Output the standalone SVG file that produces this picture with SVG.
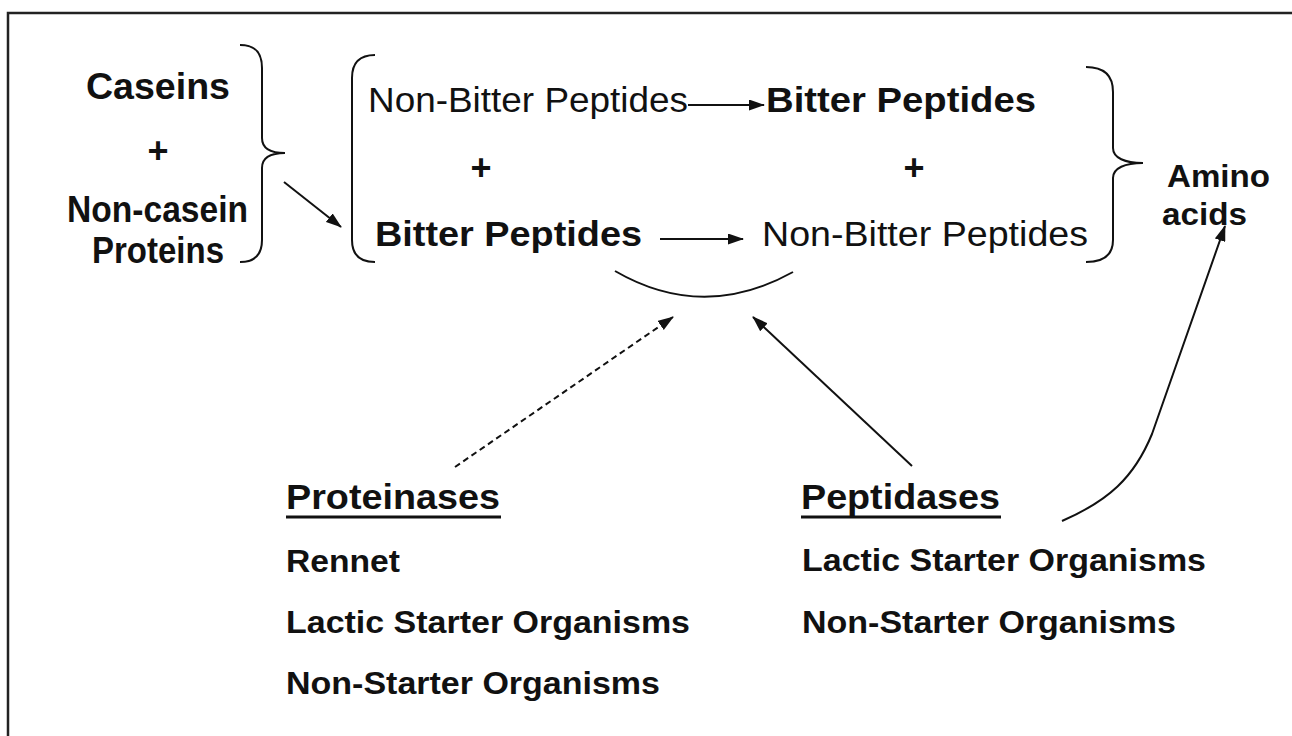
<svg xmlns="http://www.w3.org/2000/svg" width="1292" height="736" viewBox="0 0 1292 736">
<style>
  text { font-family: "Liberation Sans", Arial, sans-serif; fill: #111; }
  .b { font-weight: bold; }
  .big { font-size: 36px; }
  .mid { font-size: 35px; }
  .sm { font-size: 31px; }
  .ln { fill: none; stroke: #111; stroke-width: 2; }
  .frame { fill: none; stroke: #222; stroke-width: 2.5; }
  .ul { stroke: #111; stroke-width: 3; }
</style>
<defs>
  <marker id="ah" viewBox="0 0 16 11" refX="15" refY="5.5" markerWidth="16" markerHeight="11" markerUnits="userSpaceOnUse" orient="auto">
    <path d="M0,0 L16,5.5 L0,11 Z" fill="#111"/>
  </marker>
</defs>
<rect width="1292" height="736" fill="#fff"/>
<path class="frame" d="M8,740 L8,13 L1300,13"/>

<g id="inputs">
  <text class="b big" x="86" y="99" textLength="144" lengthAdjust="spacingAndGlyphs">Caseins</text>
  <text class="b big" x="158" y="163" text-anchor="middle">+</text>
  <text class="b big" x="67" y="222" textLength="181" lengthAdjust="spacingAndGlyphs">Non-casein</text>
  <text class="b big" x="92" y="263" textLength="132" lengthAdjust="spacingAndGlyphs">Proteins</text>
  <path class="ln" d="M240,45 C255,45 262,52 262,68 L262,138 C262,148 270,153 285,153 C270,153 262,158 262,168 L262,240 C262,255 255,262 240,262"/>
</g>

<g id="peptides">
  <path class="ln" d="M375,55 C360,55 352,62 352,78 L352,240 C352,255 360,262 375,262"/>
  <text class="mid" x="368" y="112" textLength="320" lengthAdjust="spacingAndGlyphs">Non-Bitter Peptides</text>
  <text class="b mid" x="766" y="112" textLength="270" lengthAdjust="spacingAndGlyphs">Bitter Peptides</text>
  <text class="b big" x="481" y="180" text-anchor="middle">+</text>
  <text class="b big" x="914" y="180" text-anchor="middle">+</text>
  <text class="b mid" x="375" y="246" textLength="267" lengthAdjust="spacingAndGlyphs">Bitter Peptides</text>
  <text class="mid" x="762" y="246" textLength="326" lengthAdjust="spacingAndGlyphs">Non-Bitter Peptides</text>
  <path class="ln" d="M1086,67 C1103,67 1113,75 1113,92 L1113,148 C1113,158 1125,163 1143,163 C1125,163 1113,168 1113,178 L1113,240 C1113,255 1103,262 1086,262"/>
  <path class="ln" d="M615,271 Q703,322 793,272"/>
</g>

<g id="amino">
  <text class="b sm" x="1167" y="187" textLength="103" lengthAdjust="spacingAndGlyphs">Amino</text>
  <text class="b sm" x="1162" y="225" textLength="85" lengthAdjust="spacingAndGlyphs">acids</text>
</g>

<g id="proteinases">
  <text class="b mid" x="286" y="509" textLength="214" lengthAdjust="spacingAndGlyphs">Proteinases</text>
  <line class="ul" x1="286" y1="517" x2="501" y2="517"/>
  <text class="b sm" x="286" y="572" textLength="114" lengthAdjust="spacingAndGlyphs">Rennet</text>
  <text class="b sm" x="286" y="633" textLength="404" lengthAdjust="spacingAndGlyphs">Lactic Starter Organisms</text>
  <text class="b sm" x="286" y="694" textLength="374" lengthAdjust="spacingAndGlyphs">Non-Starter Organisms</text>
</g>

<g id="peptidases">
  <text class="b mid" x="801" y="509" textLength="199" lengthAdjust="spacingAndGlyphs">Peptidases</text>
  <line class="ul" x1="801" y1="517" x2="1001" y2="517"/>
  <text class="b sm" x="802" y="571" textLength="404" lengthAdjust="spacingAndGlyphs">Lactic Starter Organisms</text>
  <text class="b sm" x="802" y="633" textLength="374" lengthAdjust="spacingAndGlyphs">Non-Starter Organisms</text>
</g>

<g id="connectors">
  <line class="ln" x1="284" y1="182" x2="341" y2="227" marker-end="url(#ah)"/>
  <line class="ln" x1="688" y1="105" x2="764" y2="105" marker-end="url(#ah)"/>
  <line class="ln" x1="660" y1="239" x2="743" y2="239" marker-end="url(#ah)"/>
  <line class="ln" x1="455" y1="467" x2="673" y2="317" stroke-dasharray="6 4" marker-end="url(#ah)"/>
  <line class="ln" x1="912" y1="466" x2="753" y2="317" marker-end="url(#ah)"/>
  <path class="ln" d="M1062,521 C1108,501 1134,478 1152,434 L1225,226" marker-end="url(#ah)"/>
</g>
</svg>
